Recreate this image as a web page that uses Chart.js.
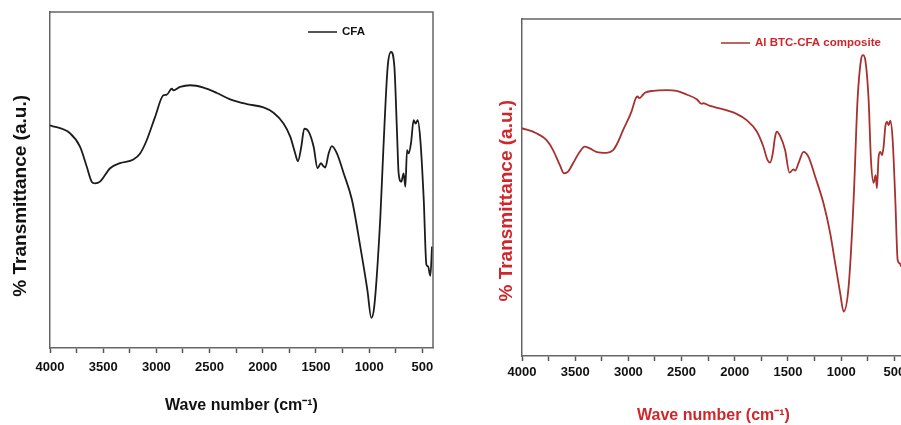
<!DOCTYPE html>
<html>
<head>
<meta charset="utf-8">
<script src="https://cdn.jsdelivr.net/npm/chart.js@4"></script>
<style>
  html, body { margin: 0; padding: 0; background: #fff; width: 901px; height: 425px; overflow: hidden; position: relative; }
  #c1 { position: absolute; left: 0; top: 0; }
  #c2 { position: absolute; left: 450px; top: 0; }
</style>
</head>
<body>
<canvas id="c1" width="450" height="425"></canvas>
<canvas id="c2" width="470" height="425"></canvas>
<script>
// ---- data ----
const cfaWavenumber = [4000,3812,3718,3655,3608,3577,3530,3435,3341,3216,3153,3090,3012,2934,2902,2855,2840,2777,2683,2557,2432,2306,2150,1993,1899,1805,1742,1695,1670,1638,1610,1569,1522,1485,1453,1435,1413,1381,1350,1303,1240,1162,1083,1017,980,952,895,867,826,795,763,738,723,698,676,660,644,629,607,582,563,544,519,487,462,447,425,409];
const cfaTransmittance = [66.3,63.9,59.9,54.0,49.5,49.0,49.5,53.5,55.0,56.1,57.9,61.9,68.8,75.2,75.4,77.2,76.7,77.7,78.2,77.5,75.9,74.0,72.6,71.6,70.0,66.8,62.9,57.9,55.6,59.9,65.3,64.4,59.9,53.5,55.0,54.3,53.7,57.9,60.1,57.9,52.0,44.1,30.1,17.3,9.0,12.4,39.0,58.9,83.7,88.1,83.7,63.9,52.0,49.5,52.0,48.0,58.9,57.9,60.9,67.8,66.8,67.8,61.9,44.1,24.8,24.3,21.5,30.2];

const compWavenumber = [4000,3865,3771,3708,3645,3605,3567,3520,3457,3410,3363,3300,3206,3143,3112,3049,2971,2930,2914,2898,2861,2845,2766,2641,2547,2453,2358,2311,2296,2233,2107,1982,1888,1793,1731,1693,1668,1643,1621,1605,1574,1527,1486,1448,1433,1401,1354,1307,1244,1166,1103,1056,1009,977,930,883,846,814,795,773,742,720,695,676,664,648,632,616,601,585,569,553,538,516,491,469,450,434];
const compTransmittance = [67.6,66.1,64.1,61.1,56.7,54.2,54.7,57.2,60.6,62.1,61.6,60.6,60.3,61.1,62.6,67.1,72.5,76.5,77.0,76.5,77.6,78.1,78.7,78.9,78.7,77.6,76.2,74.8,75.0,74.2,73.2,71.8,70.0,66.6,62.1,58.2,57.4,60.1,65.1,66.6,65.3,61.1,54.4,55.4,55.0,57.2,60.6,59.1,53.2,45.3,36.4,27.5,18.6,13.2,20.6,46.3,76.0,87.8,89.3,87.8,76.0,58.2,51.4,53.7,49.8,59.1,60.6,59.6,62.1,68.1,69.5,68.5,69.8,64.1,46.3,28.5,27.5,26.5];

const xTickLabels = [4000,3500,3000,2500,2000,1500,1000,500];
const seriesNames = ['CFA', 'Al BTC-CFA composite'];
const xAxisTitle = 'Wave number (cm\u207B\u00B9)';
const yAxisTitle = '% Transmittance (a.u.)';

// ---- styling ----
const SANS = "'Liberation Sans', Arial, sans-serif";

function toPoints(xs, ys) { return xs.map((x, i) => ({ x: x, y: ys[i] })); }

const framePlugin = {
  id: 'frame',
  afterDatasetsDraw(chart, args, opts) {
    const a = chart.chartArea, ctx = chart.ctx;
    ctx.save();
    ctx.strokeStyle = opts.color; ctx.lineWidth = opts.width;
    ctx.beginPath();
    ctx.moveTo(a.left, a.top); ctx.lineTo(a.right, a.top); ctx.lineTo(a.right, a.bottom);
    ctx.stroke();
    ctx.restore();
  }
};

const lineLegend = {
  id: 'lineLegend',
  afterDatasetsDraw(chart, args, opts) {
    const ds = chart.data.datasets[0];
    const ctx = chart.ctx;
    ctx.save();
    ctx.strokeStyle = ds.borderColor; ctx.lineWidth = 1.5;
    ctx.beginPath(); ctx.moveTo(opts.x, opts.y); ctx.lineTo(opts.x + opts.len, opts.y); ctx.stroke();
    ctx.fillStyle = opts.color;
    ctx.font = 'bold ' + opts.size + 'px ' + SANS;
    ctx.textBaseline = 'middle'; ctx.textAlign = 'left';
    ctx.fillText(ds.label, opts.x + opts.len + opts.gap, opts.y);
    ctx.restore();
  }
};

function makeChart(id, xs, ys, label, s) {
  return new Chart(document.getElementById(id), {
    type: 'line',
    data: {
      datasets: [{
        label: label,
        data: toPoints(xs, ys),
        borderColor: s.lineColor,
        borderWidth: 1.8,
        pointRadius: 0,
        fill: false,
        cubicInterpolationMode: 'monotone'
      }]
    },
    plugins: [framePlugin, lineLegend],
    options: {
      responsive: false,
      animation: false,
      devicePixelRatio: 1,
      layout: { padding: { left: 0, top: s.top, right: s.right, bottom: 0 } },
      plugins: {
        legend: { display: false },
        tooltip: { enabled: false },
        frame: { color: '#666', width: 1.5 },
        lineLegend: { x: s.legX, y: s.legY, len: 29, gap: 5, size: 11.5, color: s.legendText }
      },
      scales: {
        x: {
          type: 'linear', reverse: true, min: 400, max: 4000,
          ticks: {
            stepSize: 250, includeBounds: false, autoSkip: false, maxRotation: 0,
            padding: s.tickPad, color: '#111',
            font: { family: SANS, size: 13, weight: 'bold' },
            callback: v => xTickLabels.includes(v) ? String(v) : ''
          },
          grid: { drawOnChartArea: false, drawTicks: true, tickLength: 5, tickColor: '#555', tickWidth: 1.5 },
          border: { display: true, color: '#666', width: 1.5 },
          title: {
            display: true, text: xAxisTitle, color: s.titleColor,
            font: { family: SANS, size: 16, weight: 'bold' },
            padding: { top: 0, bottom: s.xTitlePad }
          },
          afterFit: sc => { sc.height = s.xHeight; }
        },
        y: {
          min: 0, max: 100,
          ticks: { display: false },
          grid: { display: false, drawTicks: false },
          border: { display: true, color: '#666', width: 1.5 },
          title: {
            display: true, text: yAxisTitle + s.ySpace, color: s.titleColor,
            font: { family: SANS, size: 19, weight: 'bold' },
            padding: { top: s.yTitlePad, bottom: 0 }
          },
          afterFit: sc => { sc.width = s.yWidth; }
        }
      }
    }
  });
}

makeChart('c1', cfaWavenumber, cfaTransmittance, seriesNames[0], {
  lineColor: '#1c1c1c', titleColor: '#111', legendText: '#111',
  top: 12, right: 17, xHeight: 77, yWidth: 50, tickPad: 7, xTitlePad: 10, yTitlePad: 9,
  legX: 308, legY: 32, ySpace: '      '
});

makeChart('c2', compWavenumber, compTransmittance, seriesNames[1], {
  lineColor: '#a8302e', titleColor: '#d0262a', legendText: '#d0262a',
  top: 19, right: 15, xHeight: 69, yWidth: 72, tickPad: 4, xTitlePad: 0, yTitlePad: 45,
  legX: 271, legY: 43, ySpace: '     '
});
</script>
</body>
</html>
